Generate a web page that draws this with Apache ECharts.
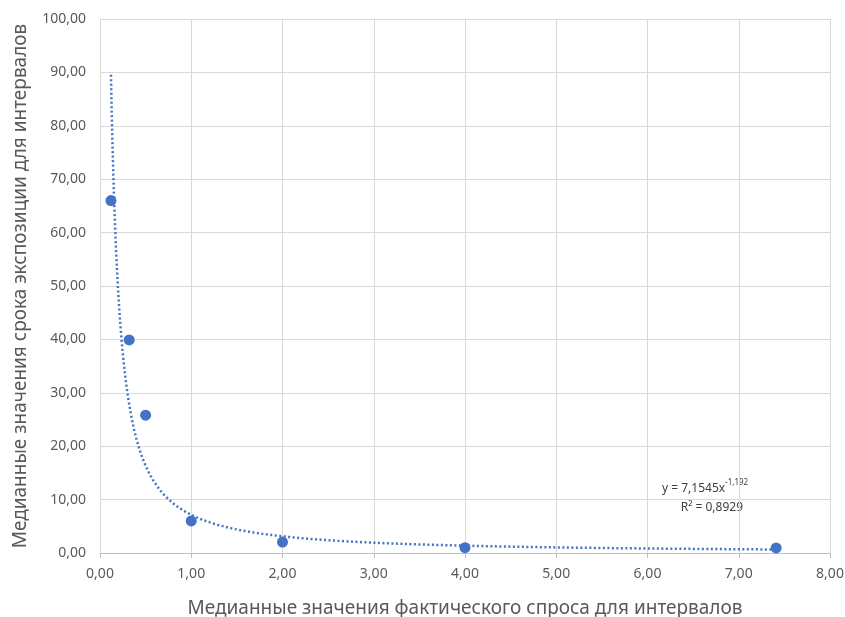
<!DOCTYPE html>
<html><head><meta charset="utf-8">
<script src="https://cdn.jsdelivr.net/npm/echarts@6/dist/echarts.min.js"></script>
<style>html,body{margin:0;padding:0;background:#fff}#c{width:845px;height:617px}</style>
</head><body><div id="c"></div>
<script>
const demandX = [0.12, 0.32, 0.50, 1.00, 2.00, 4.00, 7.41];
const exposureY = [66.0, 39.9, 25.8, 6.0, 2.05, 1.0, 0.95];
const xTicks = [0, 1, 2, 3, 4, 5, 6, 7, 8];
const yTicks = [0, 10, 20, 30, 40, 50, 60, 70, 80, 90, 100];
const trendA = 7.1545, trendB = -1.192, trendR2 = 0.8929;
const xTitle = 'Медианные значения фактического спроса для интервалов';
const yTitle = 'Медианные значения срока экспозиции для интервалов';

const fmt = v => v.toFixed(2).replace('.', ',');
const xmin = Math.min(...demandX), xmax = Math.max(...demandX);
const trend = [];
const N = 300;
for (let i = 0; i <= N; i++) {
  const x = xmin * Math.pow(xmax / xmin, i / N);
  trend.push([x, trendA * Math.pow(x, trendB)]);
}
const pts = demandX.map((x, i) => [x, exposureY[i]]);
const font = 'Noto Sans';
const chart = echarts.init(document.getElementById('c'));
chart.setOption({
  animation: false,
  textStyle: { fontFamily: font },
  grid: { left: 100, right: 15, top: 19, bottom: 64, containLabel: false, outerBoundsMode: 'none' },
  xAxis: {
    type: 'value', min: 0, max: 8, interval: 1,
    name: xTitle, nameLocation: 'middle', nameGap: 46,
    nameTextStyle: { fontSize: 19, color: '#595959', fontFamily: font },
    axisLine: { show: true, lineStyle: { color: '#bfbfbf' } },
    axisTick: { show: true, length: 5, lineStyle: { color: '#bfbfbf' } },
    axisLabel: { formatter: fmt, fontSize: 14, color: '#595959', margin: 14 },
    splitLine: { show: true, lineStyle: { color: '#d9d9d9' } }
  },
  yAxis: {
    type: 'value', min: 0, max: 100, interval: 10,
    name: yTitle, nameLocation: 'middle', nameGap: 70,
    nameTextStyle: { fontSize: 19, color: '#595959', fontFamily: font },
    axisLine: { show: false }, axisTick: { show: false },
    axisLabel: { formatter: fmt, fontSize: 14, color: '#595959', margin: 14 },
    splitLine: { show: true, lineStyle: { color: '#d9d9d9' } }
  },
  series: [
    { type: 'line', data: trend, showSymbol: false, smooth: false,
      lineStyle: { color: '#4472C4', width: 2.5, type: [2, 2.5] }, z: 2 },
    { type: 'scatter', data: pts, symbolSize: 11,
      itemStyle: { color: '#4472C4', opacity: 1 }, z: 3 }
  ],
  graphic: [
    { type: 'text', left: 662, top: 479, style: {
      text: '{a|y = ' + trendA.toString().replace('.', ',') + 'x}{s|' + trendB.toString().replace('.', ',') + '}\n{a|      R² = ' + trendR2.toString().replace('.', ',') + '}',
      rich: { a: { fontSize: 12, fill: '#404040', fontFamily: font, lineHeight: 19 },
              s: { fontSize: 8, fill: '#404040', fontFamily: font, verticalAlign: 'top', padding: [0,0,8,0] } } } }
  ]
});
</script></body></html>
